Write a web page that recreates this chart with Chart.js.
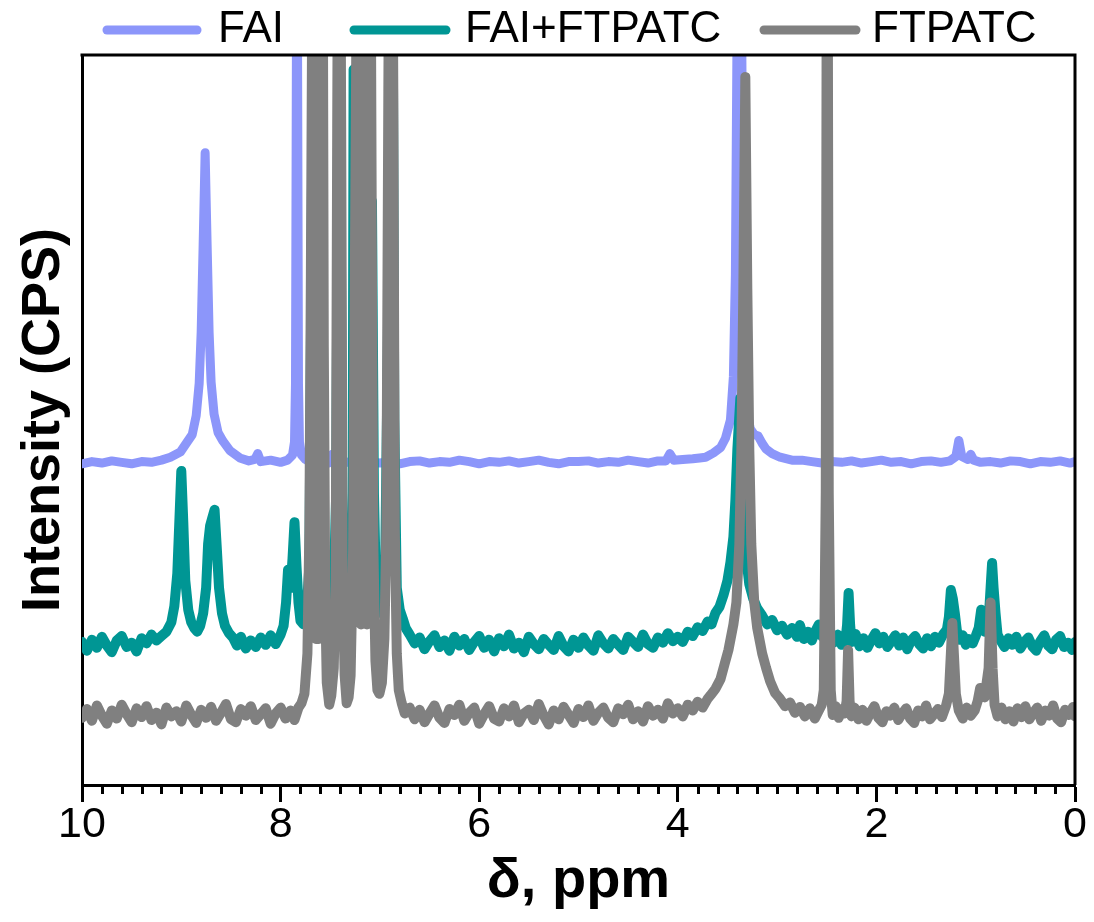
<!DOCTYPE html>
<html>
<head>
<meta charset="utf-8">
<title>1H NMR – FAI / FAI+FTPATC / FTPATC</title>
<script src="https://cdn.jsdelivr.net/npm/chart.js@4.4.1/dist/chart.umd.min.js"></script>
<style>
  html, body { margin: 0; padding: 0; background: #fff; }
  #wrap { width: 1094px; height: 922px; }
</style>
</head>
<body>
<div id="wrap"><canvas id="nmr" width="1094" height="922"></canvas></div>
<script>
// ---- data: [ppm, intensity] (offset stacked traces) ----
const seriesLabels = ['FAI', 'FAI+FTPATC', 'FTPATC'];
const xTickValues = [10, 8, 6, 4, 2, 0];

const fai = [
  [10.0, 44.0], [9.9, 44.3], [9.8, 44.1], [9.7, 44.4], [9.6, 44.2], [9.5, 44.0], [9.4, 44.3],
  [9.3, 44.2], [9.2, 44.5], [9.11, 44.9], [9.01, 45.6], [8.94, 47.0], [8.89, 48.0], [8.85, 50.6],
  [8.82, 55.0], [8.80, 62.0], [8.78, 74.0], [8.76, 86.6], [8.74, 74.0], [8.72, 62.0], [8.70, 55.2],
  [8.67, 50.8], [8.63, 48.3], [8.58, 47.1], [8.51, 45.8], [8.41, 44.8], [8.32, 44.4], [8.26, 44.6],
  [8.23, 45.4], [8.20, 44.3], [8.10, 44.5], [8.00, 44.2], [7.93, 44.5], [7.88, 45.2], [7.86, 47.0],
  [7.85, 55.0], [7.835, 130], [7.82, 55.0], [7.81, 47.0], [7.79, 45.2], [7.75, 44.6], [7.70, 44.2],
  [7.60, 44.4], [7.52, 44.1], [7.48, 45.3], [7.45, 44.3], [7.40, 44.0], [7.30, 44.3], [7.20, 44.2],
  [7.10, 44.4], [7.00, 44.1], [6.9, 44.3], [6.8, 44.0], [6.7, 44.3], [6.6, 44.4], [6.5, 44.1],
  [6.4, 44.3], [6.3, 44.2], [6.2, 44.5], [6.1, 44.3], [6.0, 44.0], [5.9, 44.3], [5.8, 44.2],
  [5.7, 44.4], [5.6, 44.1], [5.5, 44.3], [5.4, 44.5], [5.3, 44.2], [5.2, 44.0], [5.1, 44.3],
  [5.0, 44.3], [4.9, 44.4], [4.8, 44.1], [4.7, 44.3], [4.6, 44.2], [4.5, 44.5], [4.4, 44.3],
  [4.3, 44.1], [4.2, 44.4], [4.12, 44.4], [4.08, 45.4], [4.04, 44.5], [3.95, 44.6], [3.85, 44.7],
  [3.78, 44.8], [3.72, 44.9], [3.64, 45.5], [3.57, 46.2], [3.52, 47.5], [3.47, 50.0], [3.44, 56.0],
  [3.42, 70.0], [3.40, 110], [3.38, 140], [3.36, 110], [3.34, 70.0], [3.32, 56.0], [3.30, 51.0],
  [3.27, 48.8], [3.23, 48.0], [3.19, 47.8], [3.15, 46.8], [3.11, 46.0], [3.05, 45.4], [2.97, 44.9],
  [2.85, 44.5], [2.75, 44.5], [2.65, 44.3], [2.55, 44.1], [2.45, 44.3], [2.35, 44.2], [2.25, 44.4],
  [2.15, 44.1], [2.05, 44.3], [1.95, 44.5], [1.85, 44.2], [1.75, 44.3], [1.65, 44.0], [1.55, 44.3],
  [1.45, 44.4], [1.35, 44.2], [1.26, 44.4], [1.20, 45.0], [1.17, 47.2], [1.14, 45.0], [1.08, 44.6],
  [1.05, 45.3], [1.02, 44.5], [0.95, 44.2], [0.85, 44.3], [0.75, 44.1], [0.65, 44.4], [0.55, 44.3],
  [0.45, 44.0], [0.35, 44.3], [0.25, 44.2], [0.15, 44.4], [0.05, 44.1], [0.0, 44.3]
];

const faiFtpatc = [
  [10.0, 19.6], [9.95, 18.4], [9.90, 19.9], [9.85, 18.8], [9.80, 20.3], [9.75, 19.1], [9.70, 18.2],
  [9.65, 19.8], [9.60, 20.4], [9.55, 18.9], [9.50, 19.5], [9.45, 18.3], [9.40, 20.1], [9.35, 19.4],
  [9.30, 20.6], [9.25, 19.8], [9.20, 20.4], [9.15, 21.0], [9.10, 22.3], [9.07, 24.5], [9.04, 29.0],
  [9.02, 36.0], [9.00, 43.0], [8.98, 36.0], [8.96, 28.0], [8.93, 24.0], [8.90, 22.3], [8.87, 21.5],
  [8.84, 21.0], [8.81, 21.8], [8.78, 23.5], [8.75, 27.0], [8.73, 33.0], [8.71, 35.5], [8.69, 36.5],
  [8.665, 37.7], [8.645, 33.0], [8.62, 27.0], [8.59, 23.5], [8.56, 21.8], [8.52, 20.8], [8.48, 20.2],
  [8.44, 19.1], [8.40, 20.3], [8.35, 18.7], [8.30, 19.8], [8.25, 18.9], [8.20, 20.2], [8.15, 19.2],
  [8.10, 20.5], [8.05, 19.3], [8.00, 20.6], [7.97, 21.8], [7.945, 25.0], [7.925, 29.5], [7.90, 27.0],
  [7.88, 31.0], [7.86, 36.0], [7.84, 30.0], [7.82, 25.0], [7.80, 22.5], [7.77, 22.0], [7.74, 23.5],
  [7.71, 30.0], [7.67, 110], [7.635, 60.0], [7.60, 100], [7.57, 35.0], [7.545, 25.8], [7.52, 24.8],
  [7.50, 23.0], [7.47, 24.0], [7.44, 40.0], [7.41, 120], [7.38, 40.0], [7.35, 23.0], [7.33, 22.0],
  [7.31, 23.5], [7.285, 27.0], [7.275, 32.0], [7.265, 98.0], [7.255, 50.0], [7.23, 45.0], [7.18, 52.0],
  [7.15, 48.0], [7.12, 55.0], [7.10, 60.0], [7.08, 80.0], [7.06, 40.0], [7.04, 27.0], [7.01, 24.0],
  [6.98, 23.5], [6.95, 27.0], [6.92, 60.0], [6.895, 110], [6.875, 120], [6.855, 50.0], [6.83, 27.0],
  [6.80, 24.0], [6.77, 22.8], [6.74, 21.5], [6.70, 20.6], [6.65, 19.4], [6.60, 20.2], [6.55, 18.6],
  [6.50, 19.7], [6.45, 20.5], [6.40, 18.9], [6.35, 19.8], [6.30, 18.4], [6.25, 20.3], [6.20, 19.1],
  [6.15, 20.0], [6.10, 18.5], [6.05, 19.6], [6.00, 20.4], [5.95, 18.8], [5.90, 19.9], [5.85, 18.3],
  [5.80, 20.1], [5.75, 19.0], [5.70, 20.6], [5.65, 18.7], [5.60, 19.5], [5.55, 18.2], [5.50, 20.3],
  [5.45, 19.3], [5.40, 18.6], [5.35, 20.0], [5.30, 19.2], [5.25, 18.5], [5.20, 20.4], [5.15, 19.0],
  [5.10, 18.3], [5.05, 19.9], [5.00, 18.8], [4.95, 20.2], [4.90, 19.1], [4.85, 18.4], [4.80, 20.5],
  [4.75, 19.4], [4.70, 18.7], [4.65, 20.0], [4.60, 19.2], [4.55, 18.5], [4.50, 20.3], [4.45, 19.6],
  [4.40, 18.9], [4.35, 20.6], [4.30, 19.3], [4.25, 18.8], [4.20, 20.2], [4.15, 19.5], [4.10, 20.8],
  [4.05, 19.7], [4.00, 20.3], [3.95, 19.6], [3.90, 21.0], [3.85, 20.4], [3.80, 21.6], [3.75, 21.1],
  [3.70, 22.4], [3.66, 22.0], [3.62, 23.6], [3.58, 24.4], [3.54, 26.0], [3.50, 28.0], [3.47, 30.5],
  [3.44, 34.0], [3.42, 39.0], [3.40, 46.0], [3.37, 53.0], [3.35, 46.0], [3.33, 37.0], [3.31, 31.0],
  [3.28, 27.5], [3.24, 25.5], [3.20, 24.2], [3.15, 23.2], [3.10, 22.0], [3.05, 22.6], [3.00, 21.2],
  [2.95, 21.8], [2.90, 20.6], [2.85, 21.5], [2.80, 20.3], [2.77, 21.9], [2.73, 20.0], [2.69, 21.0],
  [2.65, 19.8], [2.61, 21.2], [2.58, 22.0], [2.55, 20.4], [2.51, 21.3], [2.47, 20.2], [2.43, 19.5],
  [2.39, 20.6], [2.35, 19.2], [2.31, 20.0], [2.295, 22.0], [2.28, 26.3], [2.265, 22.0], [2.25, 19.6],
  [2.21, 20.7], [2.17, 19.0], [2.13, 20.1], [2.09, 18.8], [2.05, 19.9], [2.01, 20.8], [1.97, 19.4],
  [1.93, 20.3], [1.89, 18.9], [1.85, 19.7], [1.81, 20.5], [1.77, 19.1], [1.73, 20.2], [1.69, 18.6],
  [1.65, 19.8], [1.61, 20.4], [1.57, 19.3], [1.53, 18.7], [1.49, 20.1], [1.45, 19.0], [1.41, 20.3],
  [1.37, 19.5], [1.33, 20.6], [1.29, 21.3], [1.27, 23.0], [1.25, 26.7], [1.23, 25.5], [1.21, 23.5],
  [1.19, 21.2], [1.16, 19.9], [1.13, 20.5], [1.10, 19.2], [1.07, 20.0], [1.03, 19.4], [1.00, 20.4],
  [0.97, 21.5], [0.945, 24.0], [0.93, 22.0], [0.91, 21.0], [0.87, 22.5], [0.85, 27.0], [0.835, 30.4],
  [0.82, 27.0], [0.80, 23.5], [0.78, 20.6], [0.75, 19.8], [0.71, 18.9], [0.67, 20.1], [0.63, 19.2],
  [0.59, 20.3], [0.55, 18.7], [0.51, 19.6], [0.47, 20.2], [0.43, 19.0], [0.39, 18.4], [0.35, 19.7],
  [0.31, 20.5], [0.27, 19.1], [0.23, 18.6], [0.19, 19.9], [0.15, 20.4], [0.11, 18.9], [0.07, 19.5],
  [0.03, 18.5], [0.0, 19.6]
];

const ftpatc = [
  [10.0, 9.2], [9.95, 10.4], [9.90, 8.8], [9.85, 10.9], [9.80, 9.5], [9.75, 8.4], [9.70, 10.2],
  [9.65, 9.1], [9.60, 11.0], [9.55, 9.7], [9.50, 8.6], [9.45, 10.5], [9.40, 9.3], [9.35, 10.8],
  [9.30, 8.9], [9.25, 9.9], [9.20, 8.3], [9.15, 10.6], [9.10, 9.4], [9.05, 10.1], [9.00, 8.7],
  [8.95, 10.9], [8.90, 9.6], [8.85, 8.5], [8.80, 10.3], [8.75, 9.2], [8.70, 10.7], [8.65, 8.8],
  [8.60, 9.9], [8.55, 11.1], [8.50, 9.0], [8.45, 8.6], [8.40, 10.4], [8.35, 9.5], [8.30, 10.8],
  [8.25, 8.9], [8.20, 9.7], [8.15, 10.5], [8.10, 8.4], [8.05, 9.8], [8.00, 10.6], [7.95, 9.1],
  [7.90, 10.2], [7.86, 8.9], [7.82, 10.6], [7.79, 11.2], [7.76, 12.5], [7.73, 18.0], [7.71, 35.0],
  [7.695, 70.0], [7.67, 140], [7.66, 22.0], [7.655, 140], [7.645, 20.0], [7.64, 140], [7.63, 24.0],
  [7.625, 140], [7.615, 20.0], [7.61, 140], [7.60, 22.0], [7.595, 140], [7.58, 140], [7.565, 60.0],
  [7.55, 25.0], [7.535, 14.0], [7.51, 11.0], [7.49, 12.2], [7.465, 16.0], [7.445, 28.0], [7.43, 90.0],
  [7.41, 160], [7.39, 90.0], [7.375, 28.0], [7.355, 15.0], [7.335, 11.2], [7.315, 12.0], [7.295, 15.0],
  [7.27, 32.0], [7.25, 75.0], [7.22, 140], [7.21, 24.0], [7.20, 140], [7.19, 22.0], [7.18, 140],
  [7.17, 45.0], [7.16, 140], [7.15, 45.0], [7.14, 140], [7.13, 22.0], [7.12, 140], [7.11, 25.0],
  [7.10, 140], [7.08, 70.0], [7.065, 32.0], [7.045, 17.0], [7.025, 13.0], [7.005, 12.5], [6.98, 14.0],
  [6.955, 20.0], [6.935, 35.0], [6.915, 95.0], [6.89, 160], [6.865, 95.0], [6.85, 35.0], [6.83, 18.0],
  [6.81, 13.0], [6.78, 11.2], [6.75, 9.8], [6.70, 10.6], [6.65, 9.0], [6.60, 10.3], [6.55, 8.6],
  [6.50, 9.8], [6.45, 10.9], [6.40, 9.2], [6.35, 8.5], [6.30, 10.4], [6.25, 9.6], [6.20, 11.0],
  [6.15, 8.8], [6.10, 9.9], [6.05, 10.6], [6.00, 8.4], [5.95, 9.7], [5.90, 10.8], [5.85, 9.1],
  [5.80, 8.7], [5.75, 10.5], [5.70, 9.4], [5.65, 10.9], [5.60, 8.6], [5.55, 9.8], [5.50, 10.3],
  [5.45, 8.9], [5.40, 11.1], [5.35, 9.5], [5.30, 8.3], [5.25, 10.2], [5.20, 9.0], [5.15, 10.7],
  [5.10, 9.6], [5.05, 8.5], [5.00, 10.4], [4.95, 9.3], [4.90, 10.9], [4.85, 8.8], [4.80, 9.9],
  [4.75, 10.6], [4.70, 9.2], [4.65, 8.6], [4.60, 10.5], [4.55, 9.7], [4.50, 11.0], [4.45, 9.0],
  [4.40, 10.1], [4.35, 8.7], [4.30, 10.8], [4.25, 9.5], [4.20, 10.3], [4.15, 9.1], [4.10, 11.2],
  [4.05, 9.8], [4.00, 10.5], [3.95, 9.4], [3.90, 11.0], [3.85, 10.2], [3.80, 11.4], [3.75, 10.6],
  [3.70, 11.8], [3.67, 12.3], [3.62, 13.2], [3.57, 14.5], [3.53, 16.5], [3.49, 18.5], [3.44, 22.0],
  [3.41, 25.0], [3.38, 33.0], [3.36, 46.0], [3.34, 68.0], [3.32, 97.0], [3.30, 68.0], [3.28, 46.0],
  [3.26, 33.0], [3.23, 25.0], [3.20, 21.5], [3.15, 18.0], [3.11, 16.0], [3.07, 14.2], [3.02, 12.6],
  [2.97, 11.8], [2.92, 10.8], [2.87, 11.3], [2.82, 9.9], [2.77, 10.7], [2.72, 9.4], [2.67, 10.5],
  [2.62, 9.1], [2.58, 10.2], [2.55, 11.0], [2.53, 13.0], [2.51, 40.0], [2.495, 150], [2.48, 40.0],
  [2.46, 13.0], [2.44, 9.6], [2.41, 10.8], [2.38, 9.2], [2.35, 10.4], [2.32, 9.8], [2.30, 11.5],
  [2.285, 18.5], [2.27, 11.5], [2.25, 9.4], [2.22, 10.6], [2.18, 9.0], [2.14, 10.3], [2.10, 8.8],
  [2.06, 9.9], [2.02, 10.8], [1.98, 9.2], [1.94, 8.6], [1.90, 10.1], [1.86, 9.5], [1.82, 10.6],
  [1.78, 8.9], [1.74, 9.8], [1.70, 10.5], [1.66, 9.1], [1.62, 8.5], [1.58, 10.2], [1.54, 9.4],
  [1.50, 10.9], [1.46, 9.0], [1.42, 9.7], [1.38, 10.4], [1.34, 9.3], [1.30, 10.8], [1.27, 12.5],
  [1.25, 18.0], [1.235, 22.2], [1.22, 18.0], [1.20, 12.5], [1.17, 10.2], [1.13, 9.1], [1.09, 10.6],
  [1.05, 9.5], [1.01, 10.2], [0.98, 11.5], [0.955, 13.3], [0.94, 12.5], [0.91, 12.0], [0.87, 16.0],
  [0.85, 25.0], [0.83, 16.0], [0.81, 11.0], [0.78, 9.4], [0.74, 10.6], [0.70, 9.0], [0.66, 10.1],
  [0.62, 8.7], [0.58, 10.5], [0.54, 9.3], [0.50, 10.8], [0.46, 9.0], [0.42, 9.9], [0.38, 10.6],
  [0.34, 8.8], [0.30, 10.2], [0.26, 9.5], [0.22, 10.9], [0.18, 9.1], [0.14, 8.6], [0.10, 10.3],
  [0.06, 9.6], [0.02, 10.7], [0.0, 9.4]
];

const colors = ['#8c96fa', '#009694', '#808080'];
const widths = [9, 10, 10];
const FONT = "'Liberation Sans', Arial, sans-serif";

// minor ticks every 0.2 ppm + closed frame (top/right) like the Origin plot
const framePlugin = {
  id: 'frame',
  afterDraw(chart) {
    const { ctx, chartArea: a, scales: { x } } = chart;
    ctx.save();
    ctx.strokeStyle = '#000';
    ctx.lineWidth = 3;
    ctx.beginPath();
    ctx.moveTo(a.left - 1.5, a.top);
    ctx.lineTo(a.right, a.top);
    ctx.lineTo(a.right, a.bottom);
    ctx.stroke();
    for (let i = 1; i < 50; i++) {
      if (i % 10 === 0) continue;
      const px = Math.round(x.getPixelForValue(i / 5)) + 0.5;
      ctx.beginPath();
      ctx.moveTo(px, a.bottom);
      ctx.lineTo(px, a.bottom + 9);
      ctx.stroke();
    }
    ctx.restore();
  }
};

// legend row across the top: thick rounded line + label
const legendPlugin = {
  id: 'topLegend',
  afterDraw(chart) {
    const ctx = chart.ctx;
    const slots = [[107, 197, 218], [354, 446, 465], [764, 856, 872]];
    ctx.save();
    ctx.font = '44px ' + FONT;
    ctx.textBaseline = 'middle';
    ctx.lineCap = 'round';
    chart.data.datasets.forEach((ds, i) => {
      const [x0, x1, tx] = slots[i];
      ctx.strokeStyle = ds.borderColor;
      ctx.lineWidth = 9;
      ctx.beginPath();
      ctx.moveTo(x0, 30);
      ctx.lineTo(x1, 30);
      ctx.stroke();
      ctx.fillStyle = '#000';
      ctx.fillText(ds.label, tx, 30);
    });
    ctx.restore();
  }
};

const series = [fai, faiFtpatc, ftpatc];

new Chart(document.getElementById('nmr'), {
  type: 'line',
  data: {
    datasets: series.map((pts, i) => ({
      label: seriesLabels[i],
      data: pts,
      borderColor: colors[i],
      borderWidth: widths[i],
      borderCapStyle: 'round',
      borderJoinStyle: 'round',
      pointRadius: 0,
      tension: 0,
      order: 2 - i
    }))
  },
  options: {
    responsive: false,
    devicePixelRatio: 1,
    animation: false,
    layout: { padding: { top: 55, right: 19, left: 0, bottom: 0 } },
    plugins: { legend: { display: false }, tooltip: { enabled: false } },
    scales: {
      x: {
        type: 'linear',
        min: 0,
        max: 10,
        reverse: true,
        afterBuildTicks: s => { s.ticks = xTickValues.map(v => ({ value: v })); },
        afterFit: s => { s.height = 137; },
        grid: { display: true, drawOnChartArea: false, drawTicks: true, tickLength: 17, tickWidth: 3, tickColor: '#000' },
        border: { display: true, color: '#000', width: 3 },
        ticks: { color: '#000', font: { family: FONT, size: 43 }, padding: -3, maxRotation: 0 },
        title: { display: true, text: 'δ, ppm', color: '#000', font: { family: FONT, size: 56, weight: 'bold' }, padding: { top: 0, bottom: 7 } }
      },
      y: {
        min: 0,
        max: 100,
        afterFit: s => { s.width = 82; },
        grid: { display: false },
        border: { display: true, color: '#000', width: 3 },
        ticks: { display: false },
        title: { display: true, text: 'Intensity (CPS)', color: '#000', font: { family: FONT, size: 54, weight: 'bold' }, padding: { top: 12, bottom: 0 } }
      }
    }
  },
  plugins: [framePlugin, legendPlugin]
});
</script>
</body>
</html>
